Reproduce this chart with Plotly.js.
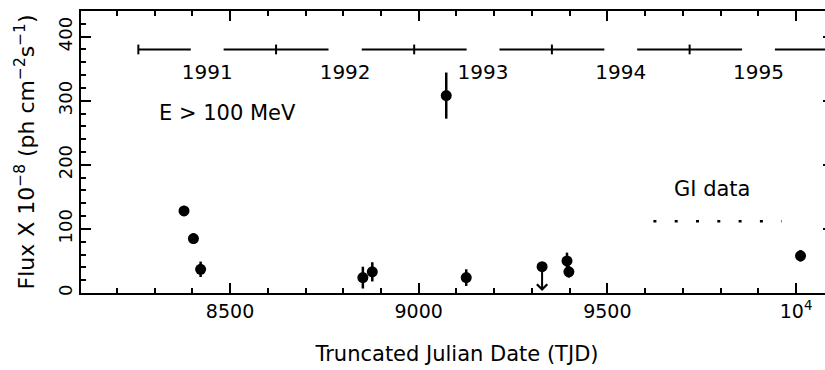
<!DOCTYPE html>
<html><head><meta charset="utf-8">
<script src="https://cdn.plot.ly/plotly-3.0.1.min.js"></script>
<style>html,body{margin:0;padding:0;overflow:hidden;background:#fff}#chart{width:833px;height:370px}</style>
</head><body><div id="chart"></div>
<script>
// Detections
const obsTJD  = [8378, 8403, 8422, 8852, 8877, 9073, 9126, 9393, 9398, 10012];
const obsFlux = [128, 85, 37, 24, 33, 308, 24, 50, 33, 58];
const obsErr  = [8, 8, 12, 17, 15, 36, 13, 13, 9, 9];
// Upper limit
const ulTJD  = [9327];
const ulFlux = [41];
// GI data marker line
const giTJD  = [9622, 9962];
const giFlux = [112, 112];
// Calendar years (TJD of Jan 1)
const yearStarts = [8257, 8622, 8988, 9353, 9718, 10083];
const yearLabels = ['1991', '1992', '1993', '1994', '1995'];
const yearBarFlux = 380;
const yearLabelFlux = 342;
// Tick labels
const xTickVals = [8500, 9000, 9500, 10000];
const xTickText = ['8500', '9000', '9500', '10<sup>4</sup>'];

const FONT = 'DejaVu Sans, Arial, sans-serif';
const halfLen = 139;

const segX = [], segY = [];
yearStarts.forEach((s, i) => {
  segX.push(i === 0 ? s : s - halfLen, s + halfLen, null);
  segY.push(yearBarFlux, yearBarFlux, null);
});
const midX = yearLabels.map((_, i) => (yearStarts[i] + yearStarts[i + 1]) / 2);

const traces = [
  {x: segX, y: segY, mode: 'lines', line: {color: '#000', width: 2}, hoverinfo: 'skip'},
  {x: yearStarts, y: yearStarts.map(() => yearBarFlux), mode: 'markers',
   marker: {symbol: 'line-ns', size: 7, line: {color: '#000', width: 2}}},
  {x: midX, y: midX.map(() => yearLabelFlux), mode: 'text', text: yearLabels,
   textfont: {family: FONT, size: 20, color: '#000'}},
  {x: giTJD, y: giFlux, mode: 'lines', line: {color: '#000', width: 2.5, dash: '3px,18.3px'}},
  {x: obsTJD, y: obsFlux, mode: 'markers',
   marker: {symbol: 'circle', size: 11, color: '#000'},
   error_y: {type: 'data', array: obsErr, visible: true, width: 0, thickness: 2.5, color: '#000'}},
  {x: ulTJD, y: ulFlux, mode: 'markers', marker: {symbol: 'circle', size: 11, color: '#000'}}
];

const axisCommon = {
  showline: true, linecolor: '#000', linewidth: 2, mirror: 'ticks',
  ticks: 'inside', tickcolor: '#000', tickwidth: 2, ticklen: 10,
  showgrid: false, zeroline: false, fixedrange: true, automargin: false
};

const layout = {
  width: 833, height: 370,
  margin: {l: 81, r: 0, t: 11, b: 77, pad: 0},
  paper_bgcolor: '#fff', plot_bgcolor: '#fff',
  showlegend: false,
  font: {family: FONT, color: '#000'},
  xaxis: Object.assign({}, axisCommon, {
    range: [8105, 10098],
    tickvals: xTickVals, ticktext: xTickText,
    tickfont: {family: FONT, size: 19, color: '#000'},
    minor: {dtick: 100, tick0: 8000, ticks: 'inside', ticklen: 5, tickwidth: 2, tickcolor: '#000'},
    title: {text: 'Truncated Julian Date (TJD)', font: {family: FONT, size: 21, color: '#000'}, standoff: 26}
  }),
  yaxis: Object.assign({}, axisCommon, {
    range: [0, 440],
    tickvals: [0, 100, 200, 300, 400],
    tickangle: -90,
    tickfont: {family: FONT, size: 18, color: '#000'},
    minor: {dtick: 20, tick0: 0, ticks: 'inside', ticklen: 5, tickwidth: 2, tickcolor: '#000'},
    title: {text: 'Flux X 10<sup>\u22128</sup> (ph cm<sup>\u22122</sup>s<sup>\u22121</sup>)',
            font: {family: FONT, size: 22, color: '#000'}, standoff: 14}
  }),
  annotations: [
    {x: 8306, y: 281, xref: 'x', yref: 'y', text: 'E > 100 MeV', showarrow: false,
     xanchor: 'left', yanchor: 'middle', font: {family: FONT, size: 21, color: '#000'}},
    {x: 9777, y: 162, xref: 'x', yref: 'y', text: 'GI data', showarrow: false,
     xanchor: 'center', yanchor: 'middle', font: {family: FONT, size: 21, color: '#000'}},
    {x: ulTJD[0], y: 3, xref: 'x', yref: 'y', ax: ulTJD[0], ay: ulFlux[0], axref: 'x', ayref: 'y',
     text: '', showarrow: true, arrowhead: 4, arrowsize: 1, arrowwidth: 2, arrowcolor: '#000'}
  ]
};

Plotly.newPlot('chart', traces, layout, {staticPlot: true, displayModeBar: false});
</script>
</body></html>
